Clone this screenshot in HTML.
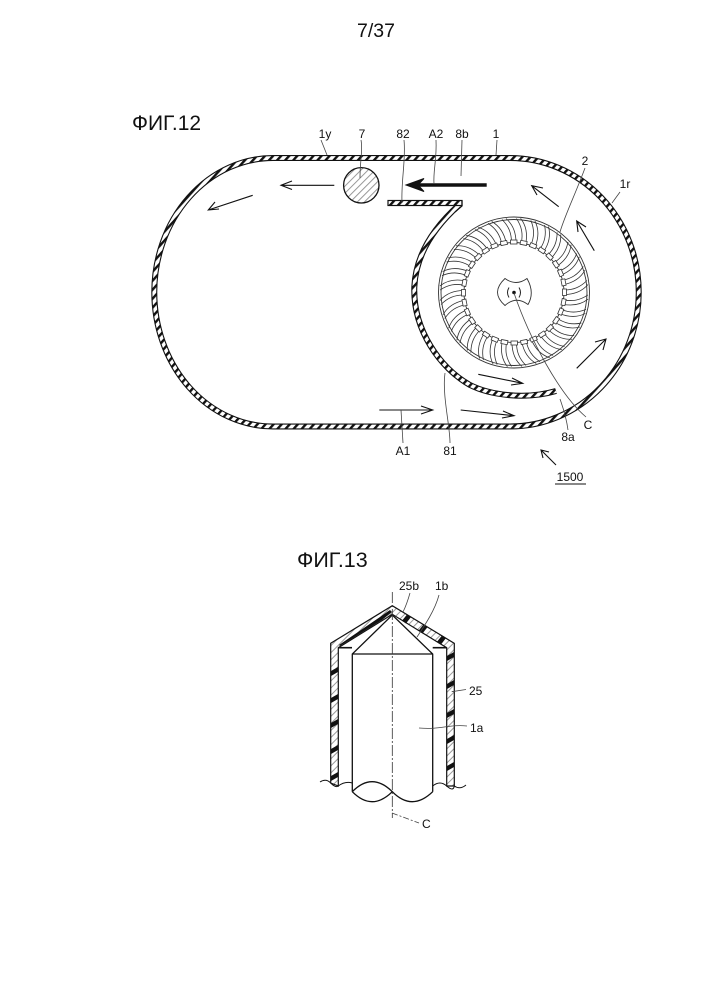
<!DOCTYPE html>
<html><head><meta charset="utf-8"><style>html,body{margin:0;padding:0;background:#fff}svg{display:block}text{font-family:"Liberation Sans",sans-serif;fill:#111}</style></head>
<body>
<svg width="707" height="1000" viewBox="0 0 707 1000" xmlns="http://www.w3.org/2000/svg">
<defs>
<pattern id="h" patternUnits="userSpaceOnUse" width="6" height="6" patternTransform="rotate(42)"><rect width="6" height="6" fill="#fff"/><rect width="2.400" height="6" fill="#111"/></pattern>
<pattern id="g" patternUnits="userSpaceOnUse" width="5" height="5" patternTransform="rotate(45)"><rect width="5" height="5" fill="#fff"/><rect width="1" height="5" fill="#999"/></pattern>
<g id="b" fill="none" stroke="#333" stroke-width=".8">
<path d="M2,-50C2,-60 -1,-68 -8,-74"/><path d="M-2.500,-50C-2.500,-59 -5,-66 -12,-73"/><rect x="-3.500" y="-52.500" width="6.500" height="4" fill="#fff"/>
</g>
</defs>

<text x="376" y="37" font-size="19.500" text-anchor="middle">7/37</text>
<text x="132" y="130" font-size="21">ФИГ.12</text>
<text x="297" y="567" font-size="21.500">ФИГ.13</text>

<!-- housing -->
<g fill="none">
<path d="M273,158H510A128.500,134 0 0 1 510,426.500H273A118.500,134 0 0 1 273,158Z" stroke="#111" stroke-width="6"/>
<path d="M273,158H510A128.500,134 0 0 1 510,426.500H273A118.500,134 0 0 1 273,158Z" stroke="url(#h)" stroke-width="3.800"/>
<path d="M459,205C440,222 416,250 414.300,287C413,330 440,368 470,385C490,395 525,400 556,391" stroke="#111" stroke-width="6"/>
<path d="M459,205C440,222 416,250 414.300,287C413,330 440,368 470,385C490,395 525,400 556,391" stroke="url(#h)" stroke-width="3.800"/>
</g>
<rect x="388" y="200.500" width="74" height="5" fill="url(#h)" stroke="#111" stroke-width="1.200"/>
<path d="M462,200.500V206L455,212" fill="none" stroke="#111" stroke-width="1.200"/>

<!-- circle 7 -->
<circle cx="361.300" cy="185.300" r="17.700" fill="url(#g)" stroke="#111" stroke-width="1.300"/>

<!-- fan -->
<g fill="none" stroke="#333" stroke-width=".9">
<circle cx="514" cy="292.500" r="75.500"/><circle cx="514" cy="292.500" r="73"/><circle cx="514" cy="292.500" r="50"/>
</g>
<g transform="translate(514 292.500)">
<use href="#b"/><use href="#b" transform="rotate(11.25)"/><use href="#b" transform="rotate(22.5)"/><use href="#b" transform="rotate(33.75)"/><use href="#b" transform="rotate(45)"/><use href="#b" transform="rotate(56.25)"/><use href="#b" transform="rotate(67.5)"/><use href="#b" transform="rotate(78.75)"/><use href="#b" transform="rotate(90)"/><use href="#b" transform="rotate(101.25)"/><use href="#b" transform="rotate(112.5)"/><use href="#b" transform="rotate(123.75)"/><use href="#b" transform="rotate(135)"/><use href="#b" transform="rotate(146.25)"/><use href="#b" transform="rotate(157.5)"/><use href="#b" transform="rotate(168.75)"/><use href="#b" transform="rotate(180)"/><use href="#b" transform="rotate(191.25)"/><use href="#b" transform="rotate(202.5)"/><use href="#b" transform="rotate(213.75)"/><use href="#b" transform="rotate(225)"/><use href="#b" transform="rotate(236.25)"/><use href="#b" transform="rotate(247.5)"/><use href="#b" transform="rotate(258.75)"/><use href="#b" transform="rotate(270)"/><use href="#b" transform="rotate(281.25)"/><use href="#b" transform="rotate(292.5)"/><use href="#b" transform="rotate(303.75)"/><use href="#b" transform="rotate(315)"/><use href="#b" transform="rotate(326.25)"/><use href="#b" transform="rotate(337.5)"/><use href="#b" transform="rotate(348.75)"/>
<path d="M-9,-14Q2,-6 13,-14Q21,0 14,12Q2,3 -9,13Q-24,0 -9,-14Z" fill="#fff" stroke="#333" stroke-width=".9"/>
<path d="M-5,-5Q-8,0 -5,5M5,-5Q8,0 5,5" fill="none" stroke="#222" stroke-width="1"/>
<circle r="1.800" fill="#111"/>
</g>

<!-- arrows -->
<g fill="none" stroke="#111" stroke-width="1.100">
<path d="M558.700,206.700L531.700,185.700M543,188L531.700,185.700L537,195"/>
<path d="M594.300,250.700L576.700,221M586,227L576.700,221L578,232"/>
<path d="M576.700,368.300L606,339M595,342L606,339L603,350"/>
<path d="M478.300,374.300L522.700,383.300M512,378L522.700,383.300L511,385"/>
<path d="M460.700,410L514,415.700M503,411L514,415.700L502,418"/>
<path d="M379.300,410H432.700M421,406L432.700,410L421,414"/>
<path d="M334.300,185.300H281M292,181L281,185.300L292,189.500"/>
<path d="M252.700,195.300L208.300,210M215,202L208.300,210L219,209"/>
<path d="M556,465L541,450M543,458L541,450L549,452"/>
</g>
<path d="M486.700,185H416" stroke="#111" stroke-width="3.400" fill="none"/>
<path d="M406,185L424,178.500L418,185L424,191.500Z" fill="#111" stroke="#111"/>

<!-- leaders -->
<g fill="none" stroke="#444" stroke-width=".8">
<path d="M321,140L327,155"/>
<path d="M361,140C363,150 360,160 360,178"/>
<path d="M404,140C406,160 401,180 402,203"/>
<path d="M436,140C437,160 433,170 434,184"/>
<path d="M462,140L461,176"/>
<path d="M497,140L496,155"/>
<path d="M585,168C575,195 565,215 560,232"/>
<path d="M620,192L612,203"/>
<path d="M403,443L401,410"/>
<path d="M450,443C450,425 442,395 445,373"/>
<path d="M568,430C566,415 562,405 560,399"/>
<path d="M586,417C560,395 530,340 514,293"/>
</g>

<g font-size="12" text-anchor="middle">
<text x="325" y="138">1y</text><text x="362" y="138">7</text><text x="403" y="138">82</text><text x="436" y="138">A2</text><text x="462" y="138">8b</text><text x="496" y="138">1</text><text x="585" y="165">2</text><text x="625" y="188">1r</text><text x="403" y="455">A1</text><text x="450" y="455">81</text><text x="568" y="441">8a</text><text x="588" y="429">C</text><text x="570" y="481">1500</text>
</g>
<path d="M555,484H586" stroke="#111" stroke-width="1"/>

<!-- FIG 13 -->
<path d="M330.700,643.300L392.300,605.700L454.300,643.300V786L446.700,786V647.700L392.300,614.300L338.300,647.700V786L330.700,783Z" fill="url(#g)" stroke="#111" stroke-width="1.200"/>
<g fill="#111">
<path d="M331,671L338,667V672L331,676ZM331,698L338,694V699L331,703ZM331,723L338,719V724L331,728ZM331,749L338,745V750L331,754ZM331,776L338,772V777L331,781Z"/>
<path d="M447,656L454,652V657L447,661ZM447,684L454,680V685L447,689ZM447,713L454,709V714L447,718ZM447,739L454,735V740L447,744ZM447,766L454,762V767L447,771Z"/>
<path d="M407,614.500L411,617L406,623.500L402,620.800ZM423.500,624.500L427.500,627L422.500,633.500L418.500,630.800ZM442,635.500L446,638L441,644.500L437,641.800Z"/>
<path d="M380,617L390,610L392,612L382,620L340,646L339,645Z"/>
</g>
<path d="M338.300,647.700H352" stroke="#111" stroke-width="1.600"/>
<path d="M432.700,647.700H446.700" stroke="#111" stroke-width="1.600"/>
<path d="M352.300,654L392.300,615L432.700,654V791.700H352.300Z" fill="#fff" stroke="none"/>
<path d="M352.300,791.700V654L392.300,615L432.700,654V791.700M352.300,654H432.700" fill="none" stroke="#111" stroke-width="1.300"/>
<path d="M352.300,791.700Q372,771.700 392.300,791.700" fill="none" stroke="#111" stroke-width="1.300"/>
<path d="M352.300,791.700Q372,811.700 392.300,791.700Q412,811.700 432.700,791.700" fill="none" stroke="#111" stroke-width="1.300"/>
<path d="M320,782Q326,778 330.700,783T338.300,786Q345,781 352.300,783M432.700,786Q440,780 446.700,786T454.300,786Q460,790 466,785" fill="none" stroke="#111" stroke-width="1"/>
<path d="M392.300,592V818" stroke="#333" stroke-width=".8" stroke-dasharray="11 2 2 2" fill="none"/>
<g fill="none" stroke="#444" stroke-width=".8">
<path d="M410,593C408,600 405,608 403,612"/>
<path d="M439,595C435,610 425,625 417,637"/>
<path d="M466,689.500L451.700,691.700"/>
<path d="M467,726C450,724 440,730 419,728"/>
<path d="M392,813L419,823" stroke-dasharray="6 2 2 2"/>
</g>
<g font-size="12">
<text x="399" y="590">25b</text><text x="435" y="590">1b</text><text x="469" y="695">25</text><text x="470" y="732">1a</text><text x="422" y="828">C</text>
</g>
</svg>
</body></html>
